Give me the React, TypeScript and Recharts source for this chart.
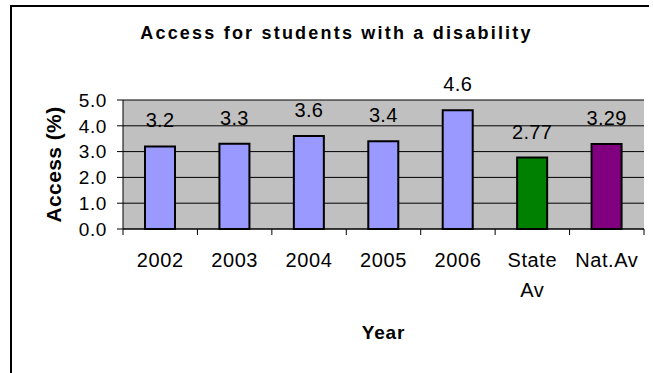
import { Bar, BarChart, CartesianGrid, Cell, LabelList, XAxis, YAxis } from 'recharts';

const CATEGORIES = ['2002', '2003', '2004', '2005', '2006', 'State Av', 'Nat.Av'];
const ACCESS = [3.2, 3.3, 3.6, 3.4, 4.6, 2.77, 3.29];
const Y_TICKS = [0, 1, 2, 3, 4, 5];
const BAR_COLORS = ['#9999FF', '#9999FF', '#9999FF', '#9999FF', '#9999FF', '#008000', '#800080'];

const FONT = '"Liberation Sans", Arial, sans-serif';

const data = CATEGORIES.map((name, i) => ({ name, access: ACCESS[i] }));

function CategoryTick(props: any) {
  const { x, y, payload, index } = props;
  const half = payload.offset ?? 520 / 7 / 2;
  const lines = String(payload.value).split(' ');
  return (
    <g>
      <line x1={x - half} y1={y} x2={x - half} y2={y + 6} stroke="#000" />
      {index === CATEGORIES.length - 1 && <line x1={x + half} y1={y} x2={x + half} y2={y + 6} stroke="#000" />}
      <text x={x} y={y + 38} textAnchor="middle" fill="#000" fontSize={20} letterSpacing={0.6} fontFamily={FONT}>
        {lines.map((l, i) => <tspan key={i} x={x} dy={i === 0 ? 0 : 30}>{l}</tspan>)}
      </text>
    </g>
  );
}

export default function App() {
  return (
    <div style={{ position: 'absolute', left: 0, top: 0, width: 653, height: 373, background: '#fff', fontFamily: FONT }}>
      <div style={{ position: 'absolute', left: 10, top: 5, width: 637, height: 380, borderLeft: '2px solid #000', borderTop: '2px solid #000' }} />
      <div style={{ position: 'absolute', left: 0, top: 24, width: 673, textAlign: 'center', fontSize: 18, lineHeight: '18px', fontWeight: 'bold', letterSpacing: 2.2, color: '#000' }}>
        Access for students with a disability
      </div>
      <div style={{ position: 'absolute', left: 0, top: 0 }}>
        <BarChart width={653} height={373} data={data} margin={{ top: 100, right: 9, bottom: 0, left: 0 }}>
          <CartesianGrid vertical={false} stroke="#000" fill="#C0C0C0" fillOpacity={1} />
          <XAxis dataKey="name" height={144} tickSize={0} tickMargin={0} tickLine={false} axisLine={{ stroke: '#000' }}
            tick={<CategoryTick />} interval={0}
            label={{ value: 'Year', position: 'insideBottom', offset: 34, fill: '#000', fontSize: 19, fontWeight: 'bold', letterSpacing: 0.8, fontFamily: FONT }} />
          <XAxis xAxisId="top" dataKey="name" orientation="top" height={0} tick={false} tickLine={false} axisLine={{ stroke: '#808080' }} />
          <YAxis width={123} domain={[0, 5]} ticks={Y_TICKS} interval={0} tickFormatter={(v: number) => v.toFixed(1)}
            tickSize={6} tickMargin={10} axisLine={{ stroke: '#000' }} tickLine={{ stroke: '#000' }}
            tick={{ fill: '#000', fontSize: 19, letterSpacing: 0.6, fontFamily: FONT }}
            label={{ value: 'Access (%)', angle: -90, position: 'insideLeft', offset: 54, fill: '#000', fontSize: 21, fontWeight: 'bold', letterSpacing: 0.4, fontFamily: FONT, style: { textAnchor: 'middle' } }} />
          <YAxis yAxisId="r" orientation="right" width={0} domain={[0, 5]} tick={false} tickLine={false} axisLine={{ stroke: '#808080' }} />
          <Bar dataKey="access" barSize={30} stroke="#000" strokeWidth={2} isAnimationActive={false}>
            {data.map((_, i) => <Cell key={i} fill={BAR_COLORS[i]} />)}
            <LabelList dataKey="access" position="top" offset={19} fill="#000" fontSize={20} letterSpacing={0.3} fontFamily={FONT} />
          </Bar>
        </BarChart>
      </div>
    </div>
  );
}
